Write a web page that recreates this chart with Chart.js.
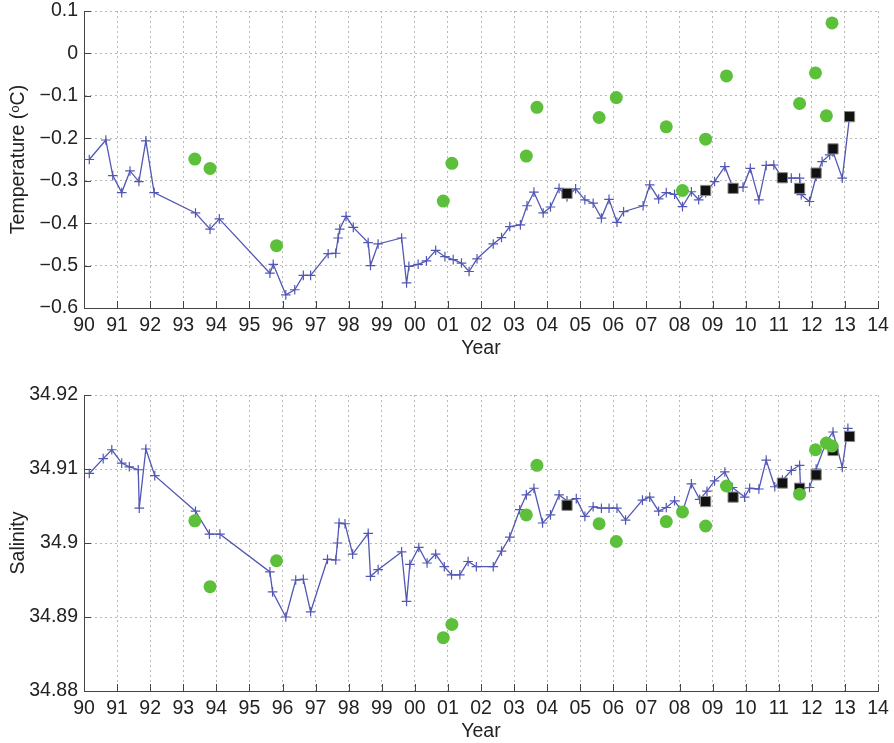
<!DOCTYPE html>
<html>
<head>
<meta charset="utf-8">
<script src="https://cdn.jsdelivr.net/npm/chart.js@4"></script>
<style>
  html, body { margin: 0; padding: 0; background: #fff; }
  #wrap { position: relative; width: 894px; height: 743px; }
  canvas { position: absolute; left: 0; }
  #tempChart { top: 0; }
  #salChart { top: 383px; }
</style>
</head>
<body>
<div id="wrap">
  <canvas id="tempChart" width="894" height="360"></canvas>
  <canvas id="salChart" width="894" height="360"></canvas>
</div>
<script>
// --- DATA ---
const yearTicks = [1990, 1991, 1992, 1993, 1994, 1995, 1996, 1997, 1998, 1999, 2000, 2001,
  2002, 2003, 2004, 2005, 2006, 2007, 2008, 2009, 2010, 2011, 2012, 2013, 2014];
const yearTickLabels = ['90', '91', '92', '93', '94', '95', '96', '97', '98', '99', '00', '01',
  '02', '03', '04', '05', '06', '07', '08', '09', '10', '11', '12', '13', '14'];

const tempTicks = [-0.6, -0.5, -0.4, -0.3, -0.2, -0.1, 0, 0.1];
const tempTickLabels = ['\u22120.6', '\u22120.5', '\u22120.4', '\u22120.3', '\u22120.2', '\u22120.1', '0', '0.1'];
const salTicks = [34.88, 34.89, 34.9, 34.91, 34.92];
const salTickLabels = ['34.88', '34.89', '34.9', '34.91', '34.92'];

// blue line (+ markers), temperature panel
const tempYears = [1990.16, 1990.66, 1990.87, 1991.14, 1991.39, 1991.66, 1991.87, 1992.12, 1993.37, 1993.81,
  1994.09, 1995.62, 1995.72, 1996.10, 1996.37, 1996.63, 1996.85, 1997.38, 1997.61, 1997.68,
  1997.73, 1997.92, 1998.14, 1998.59, 1998.66, 1998.89, 1999.60, 1999.75, 1999.82, 2000.10,
  2000.35, 2000.63, 2000.91, 2001.16, 2001.41, 2001.64, 2001.88, 2002.37, 2002.62, 2002.87,
  2003.19, 2003.39, 2003.60, 2003.88, 2004.10, 2004.36, 2004.60, 2004.86, 2005.14, 2005.39,
  2005.64, 2005.87, 2006.11, 2006.31, 2006.90, 2007.10, 2007.37, 2007.60, 2007.85, 2008.09,
  2008.36, 2008.58, 2008.79, 2009.06, 2009.37, 2009.62, 2009.92, 2010.14, 2010.40, 2010.62,
  2010.85, 2011.11, 2011.38, 2011.63, 2011.68, 2011.93, 2012.13, 2012.31, 2012.54, 2012.64,
  2012.92, 2013.14];
const tempLine = [-0.250, -0.204, -0.288, -0.328, -0.277, -0.302, -0.206, -0.328, -0.376, -0.414,
  -0.390, -0.518, -0.497, -0.569, -0.557, -0.523, -0.523, -0.472, -0.471, -0.435,
  -0.414, -0.384, -0.410, -0.446, -0.500, -0.449, -0.435, -0.541, -0.502, -0.497,
  -0.489, -0.464, -0.479, -0.486, -0.494, -0.514, -0.484, -0.449, -0.434, -0.408,
  -0.404, -0.359, -0.327, -0.376, -0.362, -0.318, -0.338, -0.319, -0.345, -0.353,
  -0.388, -0.344, -0.398, -0.373, -0.359, -0.310, -0.343, -0.328, -0.332, -0.361,
  -0.326, -0.345, -0.328, -0.302, -0.267, -0.318, -0.315, -0.271, -0.345, -0.264,
  -0.263, -0.293, -0.294, -0.294, -0.333, -0.349, -0.290, -0.255, -0.239, -0.232,
  -0.294, -0.149];

// blue line (+ markers), salinity panel
const salYears = [1990.16, 1990.58, 1990.84, 1991.14, 1991.37, 1991.64, 1991.67, 1991.87, 1992.14, 1993.37,
  1993.79, 1994.11, 1995.62, 1995.70, 1996.10, 1996.40, 1996.63, 1996.85, 1997.36, 1997.61,
  1997.66, 1997.71, 1997.89, 1998.12, 1998.59, 1998.66, 1998.89, 1999.60, 1999.75, 1999.85,
  2000.12, 2000.37, 2000.63, 2000.89, 2001.11, 2001.36, 2001.61, 2001.86, 2002.37, 2002.62,
  2002.87, 2003.17, 2003.37, 2003.60, 2003.86, 2004.10, 2004.36, 2004.60, 2004.88, 2005.14,
  2005.39, 2005.64, 2005.87, 2006.11, 2006.37, 2006.88, 2007.10, 2007.37, 2007.60, 2007.85,
  2008.09, 2008.36, 2008.61, 2008.83, 2009.06, 2009.37, 2009.60, 2009.97, 2010.12, 2010.40,
  2010.62, 2010.88, 2011.11, 2011.38, 2011.63, 2011.66, 2011.93, 2012.13, 2012.44, 2012.64,
  2012.92, 2013.09];
const salLine = [34.9094, 34.9114, 34.9126, 34.9108, 34.9103, 34.9099, 34.9047, 34.9127, 34.9091, 34.9043,
  34.9012, 34.9012, 34.8961, 34.8934, 34.8900, 34.8950, 34.8951, 34.8907, 34.8978, 34.8977,
  34.9000, 34.9027, 34.9026, 34.8985, 34.9013, 34.8955, 34.8964, 34.8988, 34.8921, 34.8971,
  34.8994, 34.8973, 34.8985, 34.8968, 34.8957, 34.8957, 34.8975, 34.8968, 34.8968, 34.8989,
  34.9008, 34.9045, 34.9065, 34.9074, 34.9027, 34.9038, 34.9065, 34.9057, 34.9060, 34.9036,
  34.9049, 34.9047, 34.9047, 34.9047, 34.9031, 34.9058, 34.9062, 34.9043, 34.9048, 34.9057,
  34.9042, 34.9080, 34.9059, 34.9070, 34.9084, 34.9096, 34.9075, 34.9062, 34.9074, 34.9073,
  34.9112, 34.9076, 34.9085, 34.9098, 34.9105, 34.9074, 34.9075, 34.9100, 34.9137, 34.9150,
  34.9102, 34.9155];

// green circles (same dates in both panels)
const greenYears = [1993.35, 1993.81, 1995.82, 2000.86, 2001.12, 2003.37, 2003.69, 2005.57, 2006.09,
  2007.60, 2008.09, 2008.79, 2009.42, 2011.63, 2012.11, 2012.44, 2012.61];
const greenTemp = [-0.249, -0.271, -0.453, -0.348, -0.259, -0.242, -0.127, -0.151, -0.104,
  -0.173, -0.323, -0.202, -0.053, -0.118, -0.046, -0.147, 0.072];
const greenSal = [34.9030, 34.8941, 34.8976, 34.8872, 34.8890, 34.9038, 34.9105, 34.9026, 34.9002,
  34.9029, 34.9042, 34.9023, 34.9077, 34.9066, 34.9126, 34.9135, 34.9131];

// black squares
const blackYears = [2004.60, 2008.79, 2009.62, 2011.11, 2011.63, 2012.13, 2012.64, 2013.14];
const blackTemp = [-0.330, -0.323, -0.318, -0.293, -0.318, -0.282, -0.225, -0.149];
const blackSal = [34.9051, 34.9056, 34.9062, 34.9081, 34.9074, 34.9092, 34.9125, 34.9144];

// --- STYLE ---
const BLUE = '#5257b4';
const GREEN = '#5cc03a';
const AXIS = '#444';
const FONT = { family: '"Liberation Sans", Arial, Helvetica, sans-serif', size: 19.5 };

Chart.defaults.font.family = FONT.family;
Chart.defaults.font.size = FONT.size;
Chart.defaults.color = '#222';

const pts = (xs, ys) => xs.map((x, i) => ({ x: x, y: ys[i] }));

// MATLAB-style tick marks pointing into the plot
const innerTicks = {
  id: 'innerTicks',
  beforeDatasetsDraw(chart) {
    const { ctx, chartArea: a, scales: { x, y } } = chart;
    ctx.save();
    ctx.strokeStyle = AXIS;
    ctx.lineWidth = 1;
    ctx.beginPath();
    x.ticks.forEach(t => {
      const px = Math.round(x.getPixelForValue(t.value)) + 0.5;
      ctx.moveTo(px, a.bottom);
      ctx.lineTo(px, a.bottom - 7);
    });
    y.ticks.forEach(t => {
      const py = Math.round(y.getPixelForValue(t.value)) + 0.5;
      ctx.moveTo(a.left, py);
      ctx.lineTo(a.left + 7, py);
    });
    ctx.stroke();
    ctx.restore();
  }
};

function makePanel(id, p) {
  return new Chart(document.getElementById(id), {
    type: 'scatter',
    data: {
      datasets: [
        {
          data: pts(greenYears, p.green), order: 0,
          pointStyle: 'circle', pointRadius: 6.5,
          backgroundColor: GREEN, borderWidth: 0
        },
        {
          data: pts(blackYears, p.black), order: 1,
          pointStyle: 'rect', pointRadius: 7.2,
          backgroundColor: '#111', borderColor: '#888', borderWidth: 1
        },
        {
          data: pts(p.years, p.line), order: 2, showLine: true,
          borderColor: BLUE, borderWidth: 1.3,
          pointStyle: 'cross', pointRadius: 4.8,
          pointBorderColor: BLUE, pointBorderWidth: 1.2
        }
      ]
    },
    options: {
      responsive: false,
      animation: false,
      layout: { padding: { top: p.padTop, right: 16, left: 0, bottom: 0 } },
      plugins: { legend: { display: false }, tooltip: { enabled: false } },
      scales: {
        x: {
          type: 'linear', min: 1990, max: 2014,
          afterBuildTicks: s => { s.ticks = yearTicks.map(v => ({ value: v })); },
          afterFit: s => { s.height = 52; s.paddingLeft = 0; s.paddingRight = 0; },
          ticks: { callback: (v, i) => yearTickLabels[i], padding: 6, maxRotation: 0, autoSkip: false },
          grid: { color: '#b8b8b8', lineWidth: 1, drawTicks: false },
          border: { display: true, color: AXIS, width: 1, dash: [2, 3] },
          title: { display: true, text: 'Year', padding: { top: 0, bottom: 0 } }
        },
        y: {
          type: 'linear', min: p.min, max: p.max,
          afterBuildTicks: s => { s.ticks = p.ticks.map(v => ({ value: v })); },
          afterFit: s => { s.width = 84; s.paddingTop = 0; s.paddingBottom = 0; },
          ticks: { callback: (v, i) => p.tickLabels[i], padding: 6 },
          grid: { color: '#b8b8b8', lineWidth: 1, drawTicks: false },
          border: { display: true, color: AXIS, width: 1, dash: [2, 3] },
          title: { display: true, text: p.title, padding: { top: 7, bottom: 0 } }
        }
      }
    },
    plugins: [innerTicks]
  });
}

makePanel('tempChart', {
  years: tempYears, line: tempLine, green: greenTemp, black: blackTemp,
  min: -0.6, max: 0.1, ticks: tempTicks, tickLabels: tempTickLabels,
  title: 'Temperature (\u1D52C)', padTop: 11
});

makePanel('salChart', {
  years: salYears, line: salLine, green: greenSal, black: blackSal,
  min: 34.88, max: 34.92, ticks: salTicks, tickLabels: salTickLabels,
  title: 'Salinity', padTop: 12
});
</script>
</body>
</html>
